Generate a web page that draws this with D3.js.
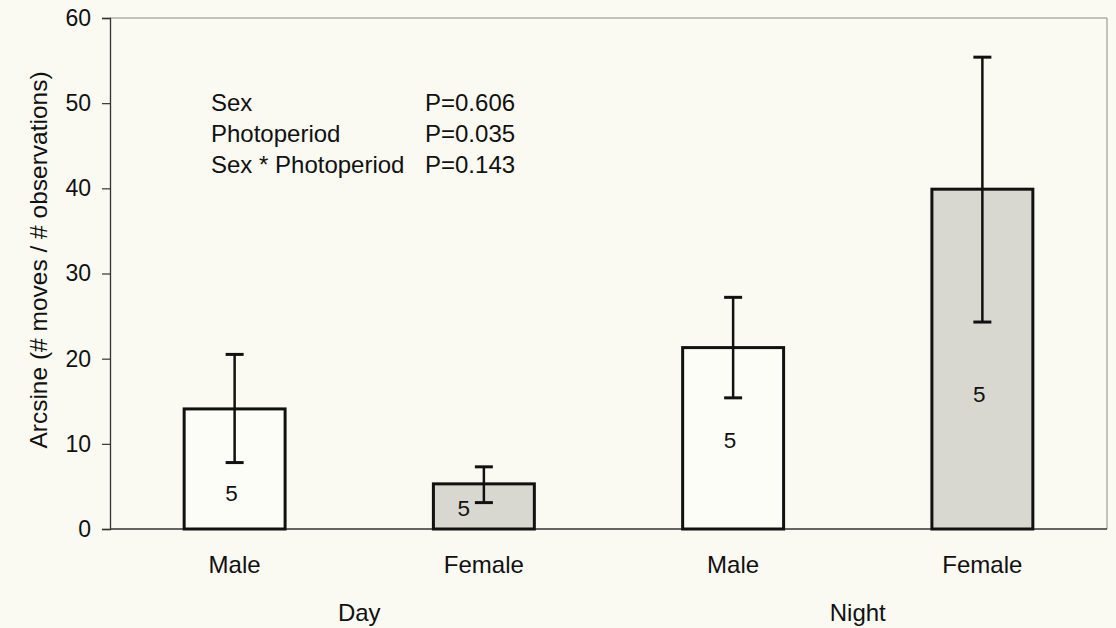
<!DOCTYPE html>
<html>
<head>
<meta charset="utf-8">
<script src="https://cdn.jsdelivr.net/npm/d3@7"></script>
<style>
  body { margin: 0; background: #fafaf2; }
  svg { display: block; font-family: "Liberation Sans", Arial, sans-serif; }
</style>
</head>
<body>
<div id="chart"></div>
<script>
// bar chart of arcsine movement rates by sex and photoperiod
var categories = ["Day Male", "Day Female", "Night Male", "Night Female"];
var sexLabels = ["Male", "Female", "Male", "Female"];
var periods = ["Day", "Night"];
var means = [14.1, 5.3, 21.3, 39.9];
var errLow = [7.8, 3.1, 15.4, 24.3];
var errHigh = [20.5, 7.3, 27.2, 55.4];
var nLabels = ["5", "5", "5", "5"];
var nLabelAt = [4.2, 2.4, 10.4, 15.8];
var isFemale = [false, true, false, true];
var yTicks = [0, 10, 20, 30, 40, 50, 60];
var stats = [
  ["Sex", "P=0.606"],
  ["Photoperiod", "P=0.035"],
  ["Sex * Photoperiod", "P=0.143"]
];

var width = 1116,
    height = 628,
    margin = {top: 18, right: 9, bottom: 99, left: 110};

var svg = d3.select("#chart")
  .append("svg")
    .attr("width", width)
    .attr("height", height);

svg.append("rect")
  .attr("width", width)
  .attr("height", height)
  .attr("fill", "#fafaf2");

var x = d3.scaleBand()
    .domain(categories)
    .range([margin.left, width - margin.right])
    .padding(0);

var y = d3.scaleLinear()
    .domain([0, 60])
    .range([height - margin.bottom, margin.top]);

var barW = x.bandwidth() * 0.405;

// frame (top and right, thin grey)
svg.append("path")
  .attr("d", "M" + margin.left + "," + y(60) + "H" + (width - margin.right) + "V" + y(0))
  .attr("fill", "none")
  .attr("stroke", "#8a8a84")
  .attr("stroke-width", 1);

// y axis
var yAxis = svg.append("g")
  .attr("transform", "translate(" + margin.left + ",0)")
  .call(d3.axisLeft(y).tickValues(yTicks).tickSize(8).tickPadding(11));
yAxis.select(".domain").attr("stroke", "#333").attr("stroke-width", 1.3);
yAxis.selectAll(".tick line").attr("stroke", "#333").attr("stroke-width", 1.2);
yAxis.selectAll(".tick text")
  .attr("font-size", 23)
  .attr("fill", "#111")
  .attr("font-family", "Liberation Sans, Arial, sans-serif");

// x baseline
svg.append("line")
  .attr("x1", margin.left)
  .attr("x2", width - margin.right)
  .attr("y1", y(0))
  .attr("y2", y(0))
  .attr("stroke", "#333")
  .attr("stroke-width", 1.4);

// bars
var bars = svg.selectAll(".bar")
  .data(categories)
  .enter()
  .append("g")
    .attr("class", "bar");

bars.append("rect")
  .attr("x", function(d) { return x(d) + x.bandwidth() / 2 - barW / 2; })
  .attr("y", function(d, i) { return y(means[i]); })
  .attr("width", barW)
  .attr("height", function(d, i) { return y(0) - y(means[i]); })
  .attr("fill", function(d, i) { return isFemale[i] ? "#d8d8d1" : "#fdfdf8"; })
  .attr("stroke", "#111")
  .attr("stroke-width", 3);

// error bars
bars.append("line")
  .attr("x1", function(d) { return x(d) + x.bandwidth() / 2; })
  .attr("x2", function(d) { return x(d) + x.bandwidth() / 2; })
  .attr("y1", function(d, i) { return y(errLow[i]); })
  .attr("y2", function(d, i) { return y(errHigh[i]); })
  .attr("stroke", "#111")
  .attr("stroke-width", 2.5);

[errLow, errHigh].forEach(function(arr) {
  bars.append("line")
    .attr("x1", function(d) { return x(d) + x.bandwidth() / 2 - 9; })
    .attr("x2", function(d) { return x(d) + x.bandwidth() / 2 + 9; })
    .attr("y1", function(d, i) { return y(arr[i]); })
    .attr("y2", function(d, i) { return y(arr[i]); })
    .attr("stroke", "#111")
    .attr("stroke-width", 3);
});

// n labels
bars.append("text")
  .attr("x", function(d, i) {
    // day female label sits left of the error bar
    return x(d) + x.bandwidth() / 2 + (i === 1 ? -20 : -3);
  })
  .attr("y", function(d, i) { return y(nLabelAt[i]); })
  .attr("dy", "0.35em")
  .attr("text-anchor", "middle")
  .attr("font-size", 22.5)
  .attr("fill", "#111")
  .text(function(d, i) { return nLabels[i]; });

// category labels
svg.selectAll(".sex-label")
  .data(categories)
  .enter()
  .append("text")
    .attr("class", "sex-label")
    .attr("x", function(d) { return x(d) + x.bandwidth() / 2; })
    .attr("y", 573)
    .attr("text-anchor", "middle")
    .attr("font-size", 24)
    .attr("fill", "#111")
    .text(function(d, i) { return sexLabels[i]; });

svg.selectAll(".period-label")
  .data(periods)
  .enter()
  .append("text")
    .attr("class", "period-label")
    .attr("x", function(d, i) {
      var a = categories[i * 2], b = categories[i * 2 + 1];
      return (x(a) + x(b) + x.bandwidth()) / 2;
    })
    .attr("y", 621)
    .attr("text-anchor", "middle")
    .attr("font-size", 24)
    .attr("fill", "#111")
    .text(function(d) { return d; });

// y axis title
svg.append("text")
  .attr("transform", "translate(47,260) rotate(-90)")
  .attr("text-anchor", "middle")
  .attr("font-size", 24.5)
  .attr("fill", "#111")
  .text("Arcsine (# moves / # observations)");

// stats block
var statRows = svg.selectAll(".stat")
  .data(stats)
  .enter()
  .append("g")
    .attr("class", "stat")
    .attr("transform", function(d, i) { return "translate(0," + (111 + i * 31) + ")"; });

statRows.append("text")
  .attr("x", 211)
  .attr("font-size", 24)
  .attr("fill", "#111")
  .text(function(d) { return d[0]; });

statRows.append("text")
  .attr("x", 425)
  .attr("font-size", 24)
  .attr("fill", "#111")
  .text(function(d) { return d[1]; });
</script>
</body>
</html>
